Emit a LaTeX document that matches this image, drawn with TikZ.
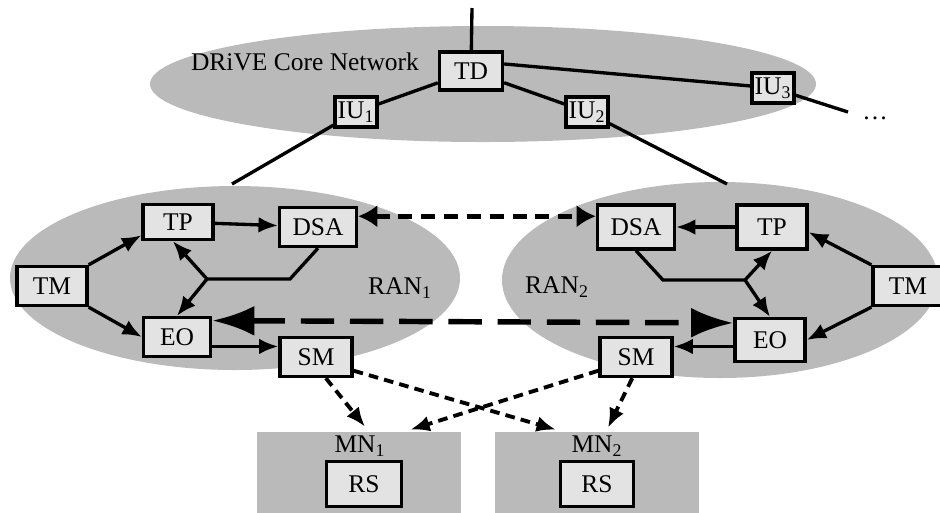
\documentclass[tikz,border=0pt]{standalone}
\usepackage{fontspec}
\setmainfont{Liberation Serif}
\usetikzlibrary{arrows.meta,positioning,calc}

\begin{document}
\begin{tikzpicture}[
    x=0.02cm, y=-0.02cm,
    font=\fontsize{14.5}{17}\selectfont,
    cloud/.style={fill=black!27},
    box/.style={draw, line width=1.9pt, fill=black!11, inner sep=1pt, minimum width=1.4cm, minimum height=0.78cm},
    iubox/.style={box, minimum width=0.84cm, minimum height=0.6cm},
    area/.style={fill=black!27, minimum width=4.1cm, minimum height=2cm, inner sep=0pt},
    link/.style={line width=1.9pt},
    flow/.style={line width=1.9pt, -{Latex[length=11pt, width=9pt]}},
    peer/.style={line width=2.6pt, dash pattern=on 8pt off 5pt, {Latex[length=11pt, width=13pt]}-{Latex[length=11pt, width=13pt]}},
    bigpeer/.style={line width=3.1pt, dash pattern=on 19pt off 9pt, {Latex[length=24pt, width=17pt]}-{Latex[length=24pt, width=17pt]}},
    mnlink/.style={line width=2.2pt, dash pattern=on 5.5pt off 3.5pt, -{Latex[length=11pt, width=9pt]}}
]
\useasboundingbox (0,0) rectangle (940,512);

% grey areas
\fill[cloud] (483,84) ellipse [x radius=333, y radius=58];
\fill[cloud] (235,278) ellipse [x radius=225, y radius=92];
\fill[cloud] (720,280) ellipse [x radius=218, y radius=98];
\node[area] (mn1) at (359,482) {};
\node[area] (mn2) at (597,482) {};

% core network
\node[box, minimum width=1.26cm, minimum height=0.76cm] (td) at (471,71) {TD};
\node (corelabel) at (305,62) {DRiVE Core Network};
\node[iubox] (iu1) at (356,112) {IU\textsubscript{1}};
\node[iubox] (iu2) at (587,112) {IU\textsubscript{2}};
\node[iubox] (iu3) at (773,88) {IU\textsubscript{3}};
\node (more) at (875,118) {\ldots};
\coordinate (up) at (472,8);
\coordinate (ran1top) at (232,184);
\coordinate (ran2top) at (727,184);
\coordinate (iu3end) at (848,112);

\draw[link] (td) -- (up);
\draw[link] (td) -- (iu1);
\draw[link] (iu1) -- (ran1top);
\draw[link] (td) -- (iu2);
\draw[link] (iu2) -- (ran2top);
\draw[link] (td.12) -- (iu3);
\draw[link] (iu3) -- (iu3end);

% RAN 1
\node[box] (tm1) at (52,286) {TM};
\node[box, minimum height=0.7cm] (tp1) at (178,222) {TP};
\node[box, minimum width=1.54cm] (dsa1) at (318,227) {DSA};
\node[box, minimum width=1.34cm] (eo1) at (177,337) {EO};
\node[box, minimum width=1.44cm] (sm1) at (316,357) {SM};
\node (ran1) at (400,288) {RAN\textsubscript{1}};
\coordinate (j1) at (207,279);
\coordinate (k1) at (290,279);

\draw[flow] (tm1.north east) -- (tp1.200);
\draw[flow] (tm1.south east) -- (eo1.west);
\draw[flow] (tp1) -- (dsa1);
\draw[link] (dsa1.south) -- (k1) -- (j1);
\draw[flow] (j1) -- (tp1.-105);
\draw[flow] (j1) -- (eo1.north);
\draw[flow] (eo1.-15) -- (sm1.west |- eo1.-15);

% RAN 2
\node[box, minimum width=1.54cm, minimum height=0.88cm] (dsa2) at (636,227) {DSA};
\node[box, minimum height=0.88cm] (tp2) at (772,227) {TP};
\node[box] (tm2) at (908,286) {TM};
\node[box, minimum height=0.86cm] (eo2) at (770,340) {EO};
\node[box, minimum width=1.44cm] (sm2) at (636,357) {SM};
\node (ran2) at (557,287) {RAN\textsubscript{2}};
\coordinate (j2) at (745,280);
\coordinate (k2) at (663,280);

\draw[flow] (tm2.north west) -- (tp2.-8);
\draw[flow] (tm2.south west) -- (eo2.east);
\draw[flow] (tp2) -- (dsa2);
\draw[link] (dsa2.south) -- (k2) -- (j2);
\draw[flow] (j2) -- (tp2.south);
\draw[flow] (j2) -- (eo2.north);
\draw[flow] (eo2.190) -- (sm2.east |- eo2.190);

% between the RANs
\draw[peer] (dsa1.15) -- (dsa2.165);
\draw[bigpeer] (eo1.25) -- (eo2.155);

% mobile nodes
\node (mn1label) at (360,446) {MN\textsubscript{1}};
\node (mn2label) at (597,446) {MN\textsubscript{2}};
\node[box, minimum width=1.5cm, minimum height=0.9cm] (rs1) at (364,484) {RS};
\node[box, minimum width=1.46cm, minimum height=0.9cm] (rs2) at (597,484) {RS};

\draw[mnlink] (sm1.-65) -- ($(mn1.north)+(6,-5)$);
\draw[mnlink] (sm1.-20) -- ($(mn2.north west)!0.6!(mn2.north)+(0,-2)$);
\draw[mnlink] (sm2.200) -- ($(mn1.north)!0.5!(mn1.north east)+(0,-2)$);
\draw[mnlink] (sm2.-100) -- ($(mn2.north)+(11,-4)$);

\end{tikzpicture}
\end{document}
